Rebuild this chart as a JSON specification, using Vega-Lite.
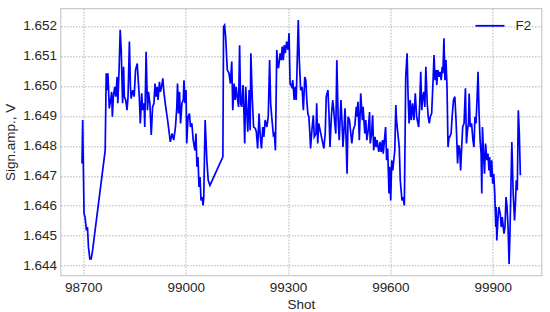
{
  "$schema": "https://vega.github.io/schema/vega-lite/v6.json",
  "width": 481,
  "height": 267,
  "autosize": {"type": "none"},
  "padding": {"left": 60.5, "top": 8.3, "right": 8, "bottom": 37},
  "config": {
    "view": {"stroke": "#cccccc", "strokeWidth": 1.25},
    "font": "Liberation Sans",
    "axis": {
      "domain": false,
      "ticks": false,
      "grid": true,
      "gridColor": "#a8a8a8",
      "gridDash": [1.5, 1.5],
      "gridWidth": 0.9,
      "labelFont": "Liberation Sans",
      "labelFontSize": 13.5,
      "labelColor": "#262626",
      "titleFont": "Liberation Sans",
      "titleFontSize": 13.5,
      "titleFontWeight": "normal",
      "titleColor": "#262626"
    }
  },
  "data": {
    "values": [
      {"shot": 98696, "amp": 1.64741}, {"shot": 98698, "amp": 1.64886}, {"shot": 98702, "amp": 1.64574}, {"shot": 98705, "amp": 1.64562},
      {"shot": 98709, "amp": 1.64518}, {"shot": 98712, "amp": 1.64529}, {"shot": 98715, "amp": 1.64462}, {"shot": 98719, "amp": 1.64423},
      {"shot": 98723, "amp": 1.64423}, {"shot": 98727, "amp": 1.64451}, {"shot": 98764, "amp": 1.64785}, {"shot": 98767, "amp": 1.65042},
      {"shot": 98770, "amp": 1.64986}, {"shot": 98772, "amp": 1.65042}, {"shot": 98776, "amp": 1.64925}, {"shot": 98780, "amp": 1.64953},
      {"shot": 98783, "amp": 1.6498}, {"shot": 98785, "amp": 1.64897}, {"shot": 98788, "amp": 1.64964}, {"shot": 98792, "amp": 1.64997},
      {"shot": 98795, "amp": 1.64964}, {"shot": 98799, "amp": 1.6503}, {"shot": 98801, "amp": 1.64942}, {"shot": 98805, "amp": 1.65064},
      {"shot": 98808, "amp": 1.65187}, {"shot": 98811, "amp": 1.6512}, {"shot": 98815, "amp": 1.64942}, {"shot": 98818, "amp": 1.65064},
      {"shot": 98820, "amp": 1.64964}, {"shot": 98824, "amp": 1.64953}, {"shot": 98828, "amp": 1.64919}, {"shot": 98831, "amp": 1.64964},
      {"shot": 98835, "amp": 1.65148}, {"shot": 98838, "amp": 1.64997}, {"shot": 98840, "amp": 1.64958}, {"shot": 98845, "amp": 1.64986},
      {"shot": 98849, "amp": 1.64964}, {"shot": 98853, "amp": 1.65053}, {"shot": 98858, "amp": 1.65075}, {"shot": 98859, "amp": 1.65053},
      {"shot": 98864, "amp": 1.64964}, {"shot": 98867, "amp": 1.64875}, {"shot": 98871, "amp": 1.64975}, {"shot": 98874, "amp": 1.64919},
      {"shot": 98878, "amp": 1.64942}, {"shot": 98880, "amp": 1.64863}, {"shot": 98884, "amp": 1.65114}, {"shot": 98888, "amp": 1.64919},
      {"shot": 98891, "amp": 1.6498}, {"shot": 98895, "amp": 1.64942}, {"shot": 98899, "amp": 1.64836}, {"shot": 98903, "amp": 1.6493},
      {"shot": 98907, "amp": 1.64942}, {"shot": 98910, "amp": 1.65008}, {"shot": 98913, "amp": 1.64964}, {"shot": 98916, "amp": 1.64997},
      {"shot": 98919, "amp": 1.64953}, {"shot": 98923, "amp": 1.65014}, {"shot": 98926, "amp": 1.6498}, {"shot": 98930, "amp": 1.65003},
      {"shot": 98933, "amp": 1.65025}, {"shot": 98936, "amp": 1.6498}, {"shot": 98940, "amp": 1.64942}, {"shot": 98947, "amp": 1.64886},
      {"shot": 98955, "amp": 1.64813}, {"shot": 98960, "amp": 1.64841}, {"shot": 98965, "amp": 1.64819}, {"shot": 98970, "amp": 1.64863},
      {"shot": 98974, "amp": 1.6493}, {"shot": 98976, "amp": 1.65008}, {"shot": 98979, "amp": 1.64908}, {"shot": 98982, "amp": 1.6498},
      {"shot": 98985, "amp": 1.64875}, {"shot": 98989, "amp": 1.64942}, {"shot": 98993, "amp": 1.64953}, {"shot": 98995, "amp": 1.65019},
      {"shot": 98998, "amp": 1.64942}, {"shot": 99001, "amp": 1.64986}, {"shot": 99003, "amp": 1.64808}, {"shot": 99007, "amp": 1.64897},
      {"shot": 99011, "amp": 1.64908}, {"shot": 99014, "amp": 1.64863}, {"shot": 99018, "amp": 1.64875}, {"shot": 99022, "amp": 1.64819},
      {"shot": 99027, "amp": 1.64785}, {"shot": 99030, "amp": 1.64841}, {"shot": 99033, "amp": 1.6473}, {"shot": 99036, "amp": 1.64763},
      {"shot": 99039, "amp": 1.64663}, {"shot": 99042, "amp": 1.64696}, {"shot": 99045, "amp": 1.64618}, {"shot": 99048, "amp": 1.64629},
      {"shot": 99051, "amp": 1.64601}, {"shot": 99053, "amp": 1.64629}, {"shot": 99057, "amp": 1.64886}, {"shot": 99062, "amp": 1.64752},
      {"shot": 99066, "amp": 1.64685}, {"shot": 99071, "amp": 1.64668}, {"shot": 99109, "amp": 1.64763}, {"shot": 99111, "amp": 1.65198},
      {"shot": 99114, "amp": 1.65203}, {"shot": 99117, "amp": 1.65164}, {"shot": 99122, "amp": 1.65053}, {"shot": 99127, "amp": 1.65042},
      {"shot": 99131, "amp": 1.65008}, {"shot": 99135, "amp": 1.65081}, {"shot": 99138, "amp": 1.64919}, {"shot": 99142, "amp": 1.65008},
      {"shot": 99145, "amp": 1.64953}, {"shot": 99148, "amp": 1.64997}, {"shot": 99151, "amp": 1.64964}, {"shot": 99155, "amp": 1.6493},
      {"shot": 99158, "amp": 1.65136}, {"shot": 99161, "amp": 1.64942}, {"shot": 99164, "amp": 1.6493}, {"shot": 99168, "amp": 1.65003},
      {"shot": 99171, "amp": 1.64902}, {"shot": 99173, "amp": 1.64808}, {"shot": 99176, "amp": 1.64997}, {"shot": 99179, "amp": 1.64919},
      {"shot": 99182, "amp": 1.64847}, {"shot": 99186, "amp": 1.64986}, {"shot": 99189, "amp": 1.64852}, {"shot": 99191, "amp": 1.65109},
      {"shot": 99195, "amp": 1.64964}, {"shot": 99199, "amp": 1.64863}, {"shot": 99204, "amp": 1.64858}, {"shot": 99207, "amp": 1.64847},
      {"shot": 99211, "amp": 1.64791}, {"shot": 99215, "amp": 1.64908}, {"shot": 99218, "amp": 1.64841}, {"shot": 99222, "amp": 1.64791},
      {"shot": 99226, "amp": 1.64863}, {"shot": 99229, "amp": 1.6483}, {"shot": 99233, "amp": 1.64886}, {"shot": 99238, "amp": 1.64863},
      {"shot": 99242, "amp": 1.64897}, {"shot": 99246, "amp": 1.65086}, {"shot": 99249, "amp": 1.64942}, {"shot": 99253, "amp": 1.64886},
      {"shot": 99257, "amp": 1.64836}, {"shot": 99260, "amp": 1.64841}, {"shot": 99263, "amp": 1.64785}, {"shot": 99267, "amp": 1.6512},
      {"shot": 99269, "amp": 1.65086}, {"shot": 99272, "amp": 1.65059}, {"shot": 99277, "amp": 1.65109}, {"shot": 99280, "amp": 1.65086},
      {"shot": 99283, "amp": 1.65131}, {"shot": 99286, "amp": 1.65086}, {"shot": 99289, "amp": 1.65136}, {"shot": 99292, "amp": 1.65109},
      {"shot": 99296, "amp": 1.65148}, {"shot": 99300, "amp": 1.6512}, {"shot": 99303, "amp": 1.65176}, {"shot": 99306, "amp": 1.65008},
      {"shot": 99311, "amp": 1.64997}, {"shot": 99314, "amp": 1.65019}, {"shot": 99318, "amp": 1.64953}, {"shot": 99321, "amp": 1.64997},
      {"shot": 99324, "amp": 1.64953}, {"shot": 99327, "amp": 1.65086}, {"shot": 99330, "amp": 1.6522}, {"shot": 99333, "amp": 1.65086},
      {"shot": 99337, "amp": 1.64986}, {"shot": 99341, "amp": 1.64997}, {"shot": 99345, "amp": 1.64919}, {"shot": 99349, "amp": 1.6503},
      {"shot": 99352, "amp": 1.65019}, {"shot": 99355, "amp": 1.64953}, {"shot": 99358, "amp": 1.64908}, {"shot": 99361, "amp": 1.64897},
      {"shot": 99364, "amp": 1.64841}, {"shot": 99366, "amp": 1.64791}, {"shot": 99370, "amp": 1.64852}, {"shot": 99374, "amp": 1.64902},
      {"shot": 99377, "amp": 1.6483}, {"shot": 99382, "amp": 1.64841}, {"shot": 99384, "amp": 1.64942}, {"shot": 99387, "amp": 1.64808},
      {"shot": 99390, "amp": 1.64875}, {"shot": 99394, "amp": 1.64852}, {"shot": 99398, "amp": 1.6483}, {"shot": 99402, "amp": 1.64808},
      {"shot": 99405, "amp": 1.64791}, {"shot": 99409, "amp": 1.64841}, {"shot": 99412, "amp": 1.64964}, {"shot": 99417, "amp": 1.64986},
      {"shot": 99420, "amp": 1.64908}, {"shot": 99423, "amp": 1.64796}, {"shot": 99427, "amp": 1.64897}, {"shot": 99431, "amp": 1.64953},
      {"shot": 99434, "amp": 1.64919}, {"shot": 99437, "amp": 1.64875}, {"shot": 99440, "amp": 1.64841}, {"shot": 99443, "amp": 1.65086},
      {"shot": 99447, "amp": 1.64886}, {"shot": 99450, "amp": 1.64819}, {"shot": 99455, "amp": 1.64953}, {"shot": 99458, "amp": 1.64886},
      {"shot": 99461, "amp": 1.64796}, {"shot": 99464, "amp": 1.64852}, {"shot": 99467, "amp": 1.64925}, {"shot": 99470, "amp": 1.6483},
      {"shot": 99473, "amp": 1.64707}, {"shot": 99476, "amp": 1.64897}, {"shot": 99480, "amp": 1.64886}, {"shot": 99483, "amp": 1.64852},
      {"shot": 99487, "amp": 1.64808}, {"shot": 99491, "amp": 1.64852}, {"shot": 99496, "amp": 1.64869}, {"shot": 99500, "amp": 1.6493},
      {"shot": 99502, "amp": 1.64897}, {"shot": 99505, "amp": 1.64947}, {"shot": 99509, "amp": 1.64819}, {"shot": 99513, "amp": 1.64975},
      {"shot": 99518, "amp": 1.64886}, {"shot": 99520, "amp": 1.6493}, {"shot": 99525, "amp": 1.64841}, {"shot": 99528, "amp": 1.64886},
      {"shot": 99531, "amp": 1.64819}, {"shot": 99535, "amp": 1.64852}, {"shot": 99539, "amp": 1.64913}, {"shot": 99541, "amp": 1.64808},
      {"shot": 99545, "amp": 1.64841}, {"shot": 99548, "amp": 1.64902}, {"shot": 99551, "amp": 1.64785}, {"shot": 99555, "amp": 1.6483},
      {"shot": 99558, "amp": 1.64796}, {"shot": 99561, "amp": 1.64819}, {"shot": 99566, "amp": 1.6478}, {"shot": 99570, "amp": 1.64813},
      {"shot": 99573, "amp": 1.6478}, {"shot": 99577, "amp": 1.64819}, {"shot": 99579, "amp": 1.64774}, {"shot": 99583, "amp": 1.64824},
      {"shot": 99586, "amp": 1.64863}, {"shot": 99589, "amp": 1.64752}, {"shot": 99592, "amp": 1.64791}, {"shot": 99596, "amp": 1.64641},
      {"shot": 99598, "amp": 1.6473}, {"shot": 99601, "amp": 1.64618}, {"shot": 99604, "amp": 1.64752}, {"shot": 99607, "amp": 1.64718},
      {"shot": 99610, "amp": 1.64752}, {"shot": 99613, "amp": 1.64785}, {"shot": 99616, "amp": 1.64936}, {"shot": 99618, "amp": 1.64886},
      {"shot": 99622, "amp": 1.64841}, {"shot": 99626, "amp": 1.64796}, {"shot": 99629, "amp": 1.64685}, {"shot": 99634, "amp": 1.64618},
      {"shot": 99637, "amp": 1.64629}, {"shot": 99641, "amp": 1.64601}, {"shot": 99645, "amp": 1.6503}, {"shot": 99649, "amp": 1.65109},
      {"shot": 99652, "amp": 1.64964}, {"shot": 99655, "amp": 1.64875}, {"shot": 99658, "amp": 1.64953}, {"shot": 99661, "amp": 1.64886},
      {"shot": 99665, "amp": 1.64942}, {"shot": 99669, "amp": 1.64886}, {"shot": 99673, "amp": 1.64975}, {"shot": 99677, "amp": 1.64897},
      {"shot": 99683, "amp": 1.64863}, {"shot": 99686, "amp": 1.64942}, {"shot": 99689, "amp": 1.65047}, {"shot": 99692, "amp": 1.64919},
      {"shot": 99695, "amp": 1.64964}, {"shot": 99698, "amp": 1.6498}, {"shot": 99701, "amp": 1.6493}, {"shot": 99704, "amp": 1.65064},
      {"shot": 99708, "amp": 1.64942}, {"shot": 99711, "amp": 1.64897}, {"shot": 99714, "amp": 1.64875}, {"shot": 99717, "amp": 1.64897},
      {"shot": 99721, "amp": 1.64908}, {"shot": 99725, "amp": 1.65014}, {"shot": 99728, "amp": 1.65103}, {"shot": 99731, "amp": 1.65019},
      {"shot": 99734, "amp": 1.65053}, {"shot": 99736, "amp": 1.65003}, {"shot": 99739, "amp": 1.65053}, {"shot": 99743, "amp": 1.6503},
      {"shot": 99746, "amp": 1.65047}, {"shot": 99749, "amp": 1.65019}, {"shot": 99752, "amp": 1.65064}, {"shot": 99754, "amp": 1.65042},
      {"shot": 99757, "amp": 1.65159}, {"shot": 99760, "amp": 1.65019}, {"shot": 99763, "amp": 1.65086}, {"shot": 99766, "amp": 1.64997},
      {"shot": 99769, "amp": 1.64796}, {"shot": 99772, "amp": 1.6483}, {"shot": 99774, "amp": 1.6483}, {"shot": 99778, "amp": 1.64841},
      {"shot": 99781, "amp": 1.64897}, {"shot": 99785, "amp": 1.64953}, {"shot": 99789, "amp": 1.64964}, {"shot": 99792, "amp": 1.64897},
      {"shot": 99794, "amp": 1.64841}, {"shot": 99797, "amp": 1.64741}, {"shot": 99800, "amp": 1.64802}, {"shot": 99803, "amp": 1.64791},
      {"shot": 99806, "amp": 1.64718}, {"shot": 99809, "amp": 1.64796}, {"shot": 99812, "amp": 1.64863}, {"shot": 99816, "amp": 1.64875},
      {"shot": 99820, "amp": 1.64992}, {"shot": 99823, "amp": 1.64808}, {"shot": 99826, "amp": 1.64852}, {"shot": 99829, "amp": 1.64875},
      {"shot": 99831, "amp": 1.64975}, {"shot": 99834, "amp": 1.64863}, {"shot": 99838, "amp": 1.64875}, {"shot": 99842, "amp": 1.64819},
      {"shot": 99845, "amp": 1.64796}, {"shot": 99848, "amp": 1.64897}, {"shot": 99851, "amp": 1.64875}, {"shot": 99854, "amp": 1.64953},
      {"shot": 99857, "amp": 1.65047}, {"shot": 99860, "amp": 1.64908}, {"shot": 99863, "amp": 1.64819}, {"shot": 99866, "amp": 1.64774},
      {"shot": 99868, "amp": 1.64641}, {"shot": 99870, "amp": 1.64863}, {"shot": 99873, "amp": 1.64774}, {"shot": 99876, "amp": 1.64707},
      {"shot": 99879, "amp": 1.64808}, {"shot": 99883, "amp": 1.64752}, {"shot": 99886, "amp": 1.64774}, {"shot": 99889, "amp": 1.64718},
      {"shot": 99891, "amp": 1.64763}, {"shot": 99894, "amp": 1.64696}, {"shot": 99897, "amp": 1.64752}, {"shot": 99900, "amp": 1.64674},
      {"shot": 99903, "amp": 1.64707}, {"shot": 99906, "amp": 1.64641}, {"shot": 99909, "amp": 1.64529}, {"shot": 99910, "amp": 1.64596},
      {"shot": 99912, "amp": 1.64484}, {"shot": 99915, "amp": 1.64551}, {"shot": 99918, "amp": 1.64596}, {"shot": 99922, "amp": 1.64574},
      {"shot": 99925, "amp": 1.64529}, {"shot": 99928, "amp": 1.64562}, {"shot": 99930, "amp": 1.6454}, {"shot": 99933, "amp": 1.64507},
      {"shot": 99936, "amp": 1.64529}, {"shot": 99939, "amp": 1.64629}, {"shot": 99942, "amp": 1.64596}, {"shot": 99945, "amp": 1.64529},
      {"shot": 99948, "amp": 1.64406}, {"shot": 99950, "amp": 1.64484}, {"shot": 99953, "amp": 1.64641}, {"shot": 99956, "amp": 1.64813},
      {"shot": 99957, "amp": 1.64774}, {"shot": 99960, "amp": 1.64641}, {"shot": 99964, "amp": 1.64551}, {"shot": 99967, "amp": 1.64618},
      {"shot": 99969, "amp": 1.64685}, {"shot": 99972, "amp": 1.64652}, {"shot": 99975, "amp": 1.64919}, {"shot": 99978, "amp": 1.64841},
      {"shot": 99981, "amp": 1.64702}
    ]
  },
  "mark": {"type": "line", "strokeWidth": 1.7},
  "encoding": {
    "x": {
      "field": "shot",
      "type": "quantitative",
      "scale": {"domain": [98633, 100043], "nice": false, "zero": false},
      "axis": {"values": [98700, 99000, 99300, 99600, 99900], "format": "d", "title": "Shot", "labelPadding": 5, "titlePadding": 4}
    },
    "y": {
      "field": "amp",
      "type": "quantitative",
      "scale": {"domain": [1.64368, 1.65259], "nice": false, "zero": false},
      "axis": {"values": [1.644, 1.645, 1.646, 1.647, 1.648, 1.649, 1.65, 1.651, 1.652], "format": ".3f", "title": "Sign.amp., V", "labelPadding": 4, "titlePadding": 5}
    },
    "color": {
      "datum": "F2",
      "type": "nominal",
      "scale": {"domain": ["F2"], "range": ["#0000ff"]},
      "legend": {
        "title": null,
        "orient": "none",
        "legendX": 414,
        "legendY": 2,
        "padding": 0,
        "symbolType": "stroke",
        "symbolSize": 841,
        "symbolStrokeWidth": 1.8,
        "labelFontSize": 13.5,
        "labelColor": "#262626",
        "labelOffset": 10,
        "labelFont": "Liberation Sans"
      }
    }
  }
}
